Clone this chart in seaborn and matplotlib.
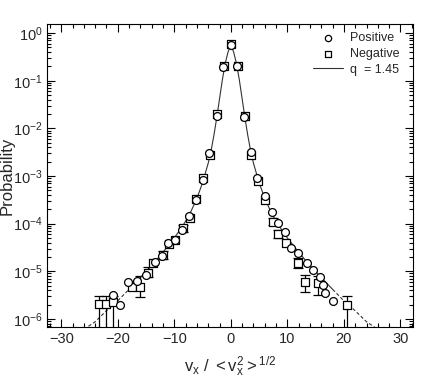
import numpy as np
import matplotlib
matplotlib.use('Agg')
import matplotlib.pyplot as plt
import seaborn as sns

# circles ("Positive"), log10 of probability
pos_x = [-20.8, -19.6, -18.2, -16.6, -15.0, -13.4, -12.2, -11.1, -9.9, -8.6, -7.4, -6.2,
         -5.0, -3.8, -2.5, -1.3, 0.0, 1.1, 2.4, 3.5, 4.7, 6.0, 7.2, 8.3, 9.5, 10.7, 11.9,
         13.4, 14.5, 15.7, 16.3, 16.6, 18.1]
pos_logp = [-5.49, -5.70, -5.22, -5.20, -5.07, -4.80, -4.69, -4.41, -4.34, -4.13, -3.83, -3.50,
            -3.08, -2.52, -1.74, -0.71, -0.24, -0.69, -1.76, -2.50, -3.04, -3.43, -3.75, -3.99,
            -4.17, -4.51, -4.62, -4.83, -4.97, -5.11, -5.28, -5.46, -5.63]

# squares ("Negative")
neg_x = [-23.3, -22.1, -20.8, -17.5, -16.1, -14.6, -13.7, -12.0, -10.9, -9.8, -8.4, -7.3,
         -6.1, -4.9, -3.7, -2.4, -1.2, 0.1, 1.2, 2.5, 3.6, 4.8, 6.0, 7.4, 8.3, 9.8, 11.9,
         13.2, 15.4, 20.6]
neg_logp = [-5.68, -5.68, -5.64, -5.32, -5.34, -5.03, -4.83, -4.66, -4.42, -4.34, -4.10, -3.88,
            -3.48, -3.05, -2.55, -1.70, -0.68, -0.22, -0.70, -1.74, -2.55, -3.10, -3.50, -3.96,
            -4.22, -4.41, -4.83, -5.23, -5.25, -5.70]

# error bars: x, low, high (log10)
err_x = [-23.3, -22.1, -20.8, -16.1, -14.6, -12.0, -8.4, 7.4, 8.3, 11.9, 13.2, 15.4, 20.6]
err_lo = [-6.4, -6.4, -6.4, -5.55, -5.12, -4.74, -4.18, -4.02, -4.30, -4.93, -5.44, -5.50, -6.4]
err_hi = [-5.51, -5.51, -5.51, -5.10, -4.92, -4.58, -4.02, -3.88, -4.14, -4.73, -5.07, -5.10, -5.52]

# q = 1.45 curve
curve_x = [-26, -24, -22, -20, -18, -16, -14, -12, -10, -9, -8, -7, -6, -5, -4, -3.5, -3, -2.5,
           -2, -1.5, -1, -0.5, 0, 0.5, 1, 1.5, 2, 2.5, 3, 3.5, 4, 5, 6, 7, 8, 9, 10, 12, 14,
           16, 18, 20, 22, 24, 26]
curve_logp = [-6.22, -6.06, -5.83, -5.62, -5.38, -5.13, -4.88, -4.60, -4.30, -4.13, -3.95, -3.73,
              -3.47, -3.14, -2.73, -2.47, -2.15, -1.78, -1.38, -0.98, -0.64, -0.40, -0.24,
              -0.40, -0.64, -0.98, -1.38, -1.78, -2.15, -2.47, -2.73, -3.14, -3.47, -3.73,
              -3.95, -4.13, -4.30, -4.60, -4.88, -5.13, -5.38, -5.62, -5.83, -6.06, -6.22]

sns.set_style('ticks')
plt.rcParams['font.family'] = ['Liberation Sans', 'DejaVu Sans']
plt.rcParams['mathtext.fontset'] = 'custom'
plt.rcParams['mathtext.rm'] = 'Liberation Sans'
plt.rcParams['mathtext.it'] = 'Liberation Sans'

fig = plt.figure(figsize=(4.36, 3.82), dpi=100)
ax = fig.add_axes([0.108, 0.144, 0.839, 0.793])

cx = np.array(curve_x, dtype=float)
cy = 10 ** np.array(curve_logp)
inner = np.abs(cx) <= 18
sns.lineplot(x=cx[inner], y=cy[inner], ax=ax, color='#333333', lw=0.8, sort=False,
             label='q  = 1.45')
left = cx <= -18
right = cx >= 18
ax.plot(cx[left], cy[left], color='#333333', lw=0.8, ls=(0, (3, 2)))
ax.plot(cx[right], cy[right], color='#333333', lw=0.8, ls=(0, (3, 2)))

ex = np.array(err_x)
ey_lo = 10 ** np.array(err_lo)
ey_hi = 10 ** np.array(err_hi)
ax.vlines(ex, ey_lo, ey_hi, color='black', lw=0.9)
ax.scatter(ex, ey_hi, marker='_', s=60, color='black', lw=0.9)
ax.scatter(ex, ey_lo, marker='_', s=60, color='black', lw=0.9)

sns.scatterplot(x=neg_x, y=10 ** np.array(neg_logp), ax=ax, marker='s', s=28,
                facecolor='white', edgecolor='black', linewidth=0.9, label='Negative', zorder=3)
sns.scatterplot(x=pos_x, y=10 ** np.array(pos_logp), ax=ax, marker='o', s=32,
                facecolor='white', edgecolor='black', linewidth=0.9, label='Positive', zorder=4)

ax.set_yscale('log')
ax.set_xlim(-32.5, 32.2)
ax.set_ylim(10 ** -6.17, 10 ** 0.19)
ax.set_xticks([-30, -20, -10, 0, 10, 20, 30])
ax.set_xticks(np.arange(-32, 33, 2), minor=True)
ax.set_xticklabels(['\u221230', '\u221220', '\u221210', '0', '10', '20', '30'])
ax.set_yticks([10 ** -k for k in range(0, 7)])
ax.set_yticklabels([r'$\mathregular{10^{%d}}$' % (-k) if k else r'$\mathregular{10^{0}}$'
                    for k in range(0, 7)])
ax.tick_params(which='both', direction='in', top=True, right=True, labelsize=10.5,
               color='black', width=0.8)
ax.tick_params(axis='y', which='major', pad=3)
ax.tick_params(which='major', length=6)
ax.tick_params(which='minor', length=3)
for s in ax.spines.values():
    s.set_linewidth(0.8)
    s.set_color('black')

ax.set_ylabel('Probability', fontsize=12)
ax.yaxis.set_label_coords(-0.088, 0.5)
ax.set_xlabel(r'$\mathregular{v_x\ /\ <v_x^2>^{1/2}}$', fontsize=12, labelpad=6)

h, l = ax.get_legend_handles_labels()
order = [l.index('Positive'), l.index('Negative'), l.index('q  = 1.45')]
ax.legend([h[i] for i in order], [l[i] for i in order], loc='upper right', frameon=False,
          fontsize=9, handlelength=2.4, handletextpad=0.6, labelspacing=0.3,
          bbox_to_anchor=(0.995, 1.01), markerscale=0.8)

fig.savefig('out.png', dpi=100)
